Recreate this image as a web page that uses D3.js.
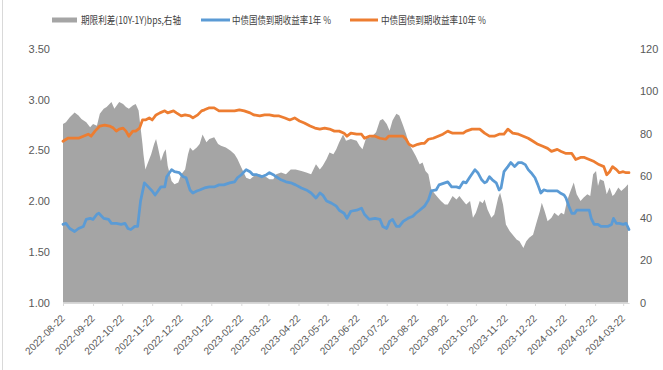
<!DOCTYPE html>
<html>
<head>
<meta charset="utf-8">
<script src="https://cdn.jsdelivr.net/npm/d3@7"></script>
<style>
    body { margin: 0; background: #fff; }
    svg { display: block; font-family: "Noto Sans CJK SC", "Microsoft YaHei", sans-serif; }
</style>
</head>
<body>
<div id="chart"></div>
<script>
const xTickDates = ["2022-08-22", "2022-09-22", "2022-10-22", "2022-11-22", "2022-12-22", "2023-01-22",
    "2023-02-22", "2023-03-22", "2023-04-22", "2023-05-22", "2023-06-22", "2023-07-22", "2023-08-22",
    "2023-09-22", "2023-10-22", "2023-11-22", "2023-12-22", "2024-01-22", "2024-02-22", "2024-03-22"];
const xDomain = ["2022-08-22", "2024-03-28"];
const leftTicks = [1.0, 1.5, 2.0, 2.5, 3.0, 3.5];
const rightTicks = [0, 20, 40, 60, 80, 100, 120];
const legendLabels = ["期限利差(10Y-1Y)bps,右轴", "中债国债到期收益率1年 %", "中债国债到期收益率10年 %"];

// 期限利差 (bps), right axis
const spread = [
    ["2022-08-22", 84.5], ["2022-08-25", 85.3], ["2022-08-29", 87.7], ["2022-09-03", 90], ["2022-09-07", 88.5],
    ["2022-09-10", 86.9], ["2022-09-15", 85.3], ["2022-09-19", 83], ["2022-09-22", 84.5], ["2022-09-26", 83.7],
    ["2022-09-29", 89.3], ["2022-10-03", 91.7], ["2022-10-06", 92.5], ["2022-10-11", 94.9], ["2022-10-14", 91.7],
    ["2022-10-19", 94.9], ["2022-10-23", 94], ["2022-10-26", 92.5], ["2022-10-29", 91.7], ["2022-11-02", 93.2],
    ["2022-11-05", 94], ["2022-11-08", 90.9], ["2022-11-10", 83], ["2022-11-12", 75], ["2022-11-13", 70.2],
    ["2022-11-15", 63], ["2022-11-17", 65.5], ["2022-11-21", 70.2], ["2022-11-24", 75], ["2022-11-26", 77.4],
    ["2022-11-28", 73.4], ["2022-12-01", 67], ["2022-12-04", 71], ["2022-12-06", 72.6], ["2022-12-08", 64.7],
    ["2022-12-12", 57.5], ["2022-12-15", 56], ["2022-12-19", 56.8], ["2022-12-22", 60.7], ["2022-12-26", 63],
    ["2022-12-29", 70.2], ["2022-12-31", 73.4], ["2023-01-03", 71.8], ["2023-01-07", 73.4], ["2023-01-10", 75],
    ["2023-01-13", 79.5], ["2023-01-17", 75.8], ["2023-01-20", 77.4], ["2023-01-25", 78.2], ["2023-01-29", 75],
    ["2023-02-01", 74.2], ["2023-02-06", 73.4], ["2023-02-11", 71.8], ["2023-02-15", 70.2], ["2023-02-18", 67.9],
    ["2023-02-22", 63.9], ["2023-02-27", 59.1], ["2023-03-03", 58.3], ["2023-03-07", 59.9], ["2023-03-13", 60.7],
    ["2023-03-18", 59.9], ["2023-03-23", 58.3], ["2023-03-27", 58.3], ["2023-03-30", 60.7], ["2023-04-04", 61.5],
    ["2023-04-09", 60.7], ["2023-04-14", 63], ["2023-04-19", 63], ["2023-04-25", 62.3], ["2023-04-30", 61.5],
    ["2023-05-05", 60.7], ["2023-05-10", 65.5], ["2023-05-14", 63], ["2023-05-17", 64.7], ["2023-05-21", 67.9],
    ["2023-05-24", 71], ["2023-05-28", 70.2], ["2023-05-31", 72.6], ["2023-06-03", 75.8], ["2023-06-07", 79.5],
    ["2023-06-10", 76.6], ["2023-06-15", 77.4], ["2023-06-21", 76.6], ["2023-06-24", 74.2], ["2023-06-27", 72.6],
    ["2023-07-01", 78.2], ["2023-07-06", 78.2], ["2023-07-11", 80.6], ["2023-07-15", 86.1], ["2023-07-18", 86.9],
    ["2023-07-22", 84.5], ["2023-07-25", 81.3], ["2023-07-28", 86.1], ["2023-08-01", 89.3], ["2023-08-04", 88.5],
    ["2023-08-08", 83.7], ["2023-08-11", 79.8], ["2023-08-14", 75], ["2023-08-18", 71.8], ["2023-08-21", 69.4],
    ["2023-08-25", 65.5], ["2023-08-28", 66.3], ["2023-08-31", 62.3], ["2023-09-03", 60.7], ["2023-09-06", 53.6],
    ["2023-09-10", 51.2], ["2023-09-13", 49.6], ["2023-09-16", 48], ["2023-09-20", 46.4], ["2023-09-23", 46.4],
    ["2023-09-28", 50.4], ["2023-10-02", 48.8], ["2023-10-05", 50.4], ["2023-10-09", 48], ["2023-10-12", 46.4],
    ["2023-10-16", 48], ["2023-10-19", 40.1], ["2023-10-22", 42.5], ["2023-10-26", 48], ["2023-10-29", 47],
    ["2023-10-31", 48.8], ["2023-11-03", 44], ["2023-11-07", 40.1], ["2023-11-10", 41.7], ["2023-11-14", 49.6],
    ["2023-11-16", 52], ["2023-11-19", 46.4], ["2023-11-22", 36.9], ["2023-11-26", 33.7], ["2023-11-29", 32.1],
    ["2023-12-03", 29.8], ["2023-12-06", 29], ["2023-12-10", 25.8], ["2023-12-13", 29], ["2023-12-16", 30.6],
    ["2023-12-20", 32.1], ["2023-12-23", 36.9], ["2023-12-27", 43.2], ["2023-12-29", 47.2], ["2024-01-01", 43.2],
    ["2024-01-04", 38.5], ["2024-01-08", 40.1], ["2024-01-11", 42.5], ["2024-01-15", 40.9], ["2024-01-18", 42.5],
    ["2024-01-21", 41.7], ["2024-01-24", 48], ["2024-01-27", 52], ["2024-01-31", 56.8], ["2024-02-03", 51.2],
    ["2024-02-07", 48], ["2024-02-10", 49.6], ["2024-02-14", 51.2], ["2024-02-17", 50.4], ["2024-02-20", 60.7],
    ["2024-02-23", 62.3], ["2024-02-25", 55.1], ["2024-02-27", 58.3], ["2024-03-02", 57.5], ["2024-03-05", 51.2],
    ["2024-03-08", 54.4], ["2024-03-11", 50.4], ["2024-03-13", 51.2], ["2024-03-17", 54.4], ["2024-03-20", 52.8],
    ["2024-03-24", 54.4], ["2024-03-27", 56]
];

// 1Y yield (%), left axis
const cgb1y = [
    ["2022-08-22", 1.77], ["2022-08-25", 1.78], ["2022-08-29", 1.73], ["2022-09-03", 1.70], ["2022-09-07", 1.73],
    ["2022-09-12", 1.75], ["2022-09-15", 1.82], ["2022-09-19", 1.83], ["2022-09-22", 1.82], ["2022-09-26", 1.87],
    ["2022-09-28", 1.88], ["2022-10-03", 1.83], ["2022-10-08", 1.82], ["2022-10-11", 1.78], ["2022-10-16", 1.78],
    ["2022-10-21", 1.77], ["2022-10-25", 1.78], ["2022-10-28", 1.73], ["2022-10-31", 1.72], ["2022-11-04", 1.75],
    ["2022-11-07", 1.75], ["2022-11-10", 2.00], ["2022-11-14", 2.18], ["2022-11-18", 2.14], ["2022-11-22", 2.10],
    ["2022-11-25", 2.06], ["2022-11-28", 2.10], ["2022-12-01", 2.14], ["2022-12-05", 2.14], ["2022-12-07", 2.24],
    ["2022-12-12", 2.31], ["2022-12-15", 2.29], ["2022-12-20", 2.28], ["2022-12-24", 2.24], ["2022-12-27", 2.23],
    ["2022-12-31", 2.11], ["2023-01-03", 2.08], ["2023-01-07", 2.10], ["2023-01-10", 2.11], ["2023-01-15", 2.13],
    ["2023-01-20", 2.14], ["2023-01-25", 2.14], ["2023-01-30", 2.16], ["2023-02-04", 2.16], ["2023-02-10", 2.18],
    ["2023-02-15", 2.19], ["2023-02-18", 2.23], ["2023-02-22", 2.26], ["2023-02-27", 2.31], ["2023-03-03", 2.29],
    ["2023-03-06", 2.26], ["2023-03-10", 2.26], ["2023-03-15", 2.24], ["2023-03-20", 2.26], ["2023-03-23", 2.28],
    ["2023-03-27", 2.26], ["2023-03-30", 2.24], ["2023-04-04", 2.21], ["2023-04-09", 2.19], ["2023-04-14", 2.18],
    ["2023-04-19", 2.16], ["2023-04-25", 2.13], ["2023-04-30", 2.11], ["2023-05-05", 2.08], ["2023-05-10", 2.03],
    ["2023-05-14", 2.08], ["2023-05-17", 2.06], ["2023-05-21", 2.00], ["2023-05-26", 1.98], ["2023-05-31", 1.95],
    ["2023-06-03", 1.91], ["2023-06-08", 1.88], ["2023-06-11", 1.83], ["2023-06-15", 1.90], ["2023-06-21", 1.91],
    ["2023-06-26", 1.93], ["2023-06-29", 1.87], ["2023-07-04", 1.82], ["2023-07-10", 1.83], ["2023-07-15", 1.82],
    ["2023-07-18", 1.75], ["2023-07-22", 1.73], ["2023-07-25", 1.80], ["2023-07-28", 1.82], ["2023-08-01", 1.75],
    ["2023-08-04", 1.75], ["2023-08-08", 1.80], ["2023-08-13", 1.83], ["2023-08-18", 1.85], ["2023-08-21", 1.88],
    ["2023-08-25", 1.91], ["2023-08-30", 1.95], ["2023-09-03", 2.01], ["2023-09-06", 2.10], ["2023-09-11", 2.11],
    ["2023-09-14", 2.16], ["2023-09-20", 2.18], ["2023-09-23", 2.19], ["2023-09-27", 2.14], ["2023-10-02", 2.14],
    ["2023-10-05", 2.13], ["2023-10-09", 2.19], ["2023-10-12", 2.18], ["2023-10-16", 2.24], ["2023-10-21", 2.31],
    ["2023-10-24", 2.28], ["2023-10-28", 2.21], ["2023-10-31", 2.18], ["2023-11-02", 2.19], ["2023-11-05", 2.24],
    ["2023-11-08", 2.21], ["2023-11-12", 2.18], ["2023-11-15", 2.11], ["2023-11-17", 2.13], ["2023-11-20", 2.29],
    ["2023-11-24", 2.34], ["2023-11-27", 2.38], ["2023-12-01", 2.34], ["2023-12-05", 2.38], ["2023-12-08", 2.38],
    ["2023-12-12", 2.36], ["2023-12-15", 2.31], ["2023-12-18", 2.28], ["2023-12-22", 2.23], ["2023-12-25", 2.16],
    ["2023-12-28", 2.08], ["2023-12-31", 2.11], ["2024-01-04", 2.10], ["2024-01-07", 2.10], ["2024-01-10", 2.10],
    ["2024-01-14", 2.10], ["2024-01-17", 2.08], ["2024-01-21", 2.06], ["2024-01-23", 2.03], ["2024-01-26", 1.95],
    ["2024-01-29", 1.88], ["2024-02-01", 1.88], ["2024-02-03", 1.91], ["2024-02-08", 1.91], ["2024-02-12", 1.91],
    ["2024-02-16", 1.91], ["2024-02-18", 1.83], ["2024-02-21", 1.77], ["2024-02-25", 1.77], ["2024-02-28", 1.75],
    ["2024-03-03", 1.75], ["2024-03-06", 1.75], ["2024-03-10", 1.77], ["2024-03-12", 1.83], ["2024-03-15", 1.78],
    ["2024-03-18", 1.78], ["2024-03-22", 1.77], ["2024-03-25", 1.78], ["2024-03-28", 1.72]
];

// 10Y yield (%), left axis
const cgb10y = [
    ["2022-08-22", 2.59], ["2022-08-27", 2.62], ["2022-09-01", 2.62], ["2022-09-07", 2.62], ["2022-09-12", 2.64],
    ["2022-09-17", 2.66], ["2022-09-20", 2.64], ["2022-09-24", 2.69], ["2022-09-29", 2.74], ["2022-10-04", 2.75],
    ["2022-10-09", 2.74], ["2022-10-13", 2.72], ["2022-10-16", 2.69], ["2022-10-19", 2.71], ["2022-10-23", 2.72],
    ["2022-10-26", 2.69], ["2022-10-29", 2.64], ["2022-11-02", 2.69], ["2022-11-05", 2.69], ["2022-11-09", 2.72],
    ["2022-11-12", 2.80], ["2022-11-15", 2.80], ["2022-11-19", 2.82], ["2022-11-22", 2.80], ["2022-11-26", 2.85],
    ["2022-11-30", 2.87], ["2022-12-05", 2.89], ["2022-12-08", 2.87], ["2022-12-14", 2.89], ["2022-12-17", 2.87],
    ["2022-12-22", 2.84], ["2022-12-26", 2.85], ["2022-12-31", 2.84], ["2023-01-03", 2.82], ["2023-01-08", 2.85],
    ["2023-01-12", 2.89], ["2023-01-15", 2.90], ["2023-01-20", 2.92], ["2023-01-25", 2.92], ["2023-01-30", 2.89],
    ["2023-02-04", 2.89], ["2023-02-10", 2.89], ["2023-02-15", 2.89], ["2023-02-20", 2.90], ["2023-02-25", 2.89],
    ["2023-03-03", 2.87], ["2023-03-07", 2.85], ["2023-03-13", 2.84], ["2023-03-18", 2.85], ["2023-03-23", 2.85],
    ["2023-03-28", 2.84], ["2023-04-02", 2.84], ["2023-04-08", 2.82], ["2023-04-13", 2.80], ["2023-04-18", 2.82],
    ["2023-04-23", 2.79], ["2023-04-28", 2.77], ["2023-05-04", 2.74], ["2023-05-09", 2.72], ["2023-05-14", 2.71],
    ["2023-05-19", 2.72], ["2023-05-24", 2.71], ["2023-05-29", 2.69], ["2023-06-03", 2.69], ["2023-06-08", 2.67],
    ["2023-06-11", 2.64], ["2023-06-15", 2.67], ["2023-06-21", 2.66], ["2023-06-26", 2.66], ["2023-06-29", 2.62],
    ["2023-07-04", 2.64], ["2023-07-10", 2.64], ["2023-07-15", 2.62], ["2023-07-21", 2.61], ["2023-07-24", 2.64],
    ["2023-07-28", 2.64], ["2023-08-03", 2.64], ["2023-08-08", 2.64], ["2023-08-11", 2.61], ["2023-08-14", 2.56],
    ["2023-08-18", 2.54], ["2023-08-23", 2.56], ["2023-08-27", 2.57], ["2023-08-30", 2.57], ["2023-09-03", 2.61],
    ["2023-09-08", 2.62], ["2023-09-13", 2.64], ["2023-09-18", 2.66], ["2023-09-23", 2.69], ["2023-09-28", 2.67],
    ["2023-10-04", 2.67], ["2023-10-09", 2.67], ["2023-10-12", 2.69], ["2023-10-18", 2.71], ["2023-10-22", 2.71],
    ["2023-10-26", 2.71], ["2023-10-31", 2.67], ["2023-11-05", 2.64], ["2023-11-10", 2.64], ["2023-11-15", 2.66],
    ["2023-11-20", 2.66], ["2023-11-24", 2.71], ["2023-11-29", 2.67], ["2023-12-05", 2.66], ["2023-12-10", 2.64],
    ["2023-12-15", 2.62], ["2023-12-20", 2.59], ["2023-12-25", 2.56], ["2023-12-30", 2.54], ["2024-01-04", 2.52],
    ["2024-01-08", 2.49], ["2024-01-14", 2.51], ["2024-01-18", 2.49], ["2024-01-23", 2.47], ["2024-01-29", 2.47],
    ["2024-02-02", 2.41], ["2024-02-07", 2.43], ["2024-02-11", 2.43], ["2024-02-16", 2.41], ["2024-02-21", 2.39],
    ["2024-02-26", 2.36], ["2024-03-02", 2.34], ["2024-03-05", 2.26], ["2024-03-08", 2.29], ["2024-03-11", 2.34],
    ["2024-03-15", 2.31], ["2024-03-18", 2.28], ["2024-03-22", 2.29], ["2024-03-25", 2.28], ["2024-03-28", 2.28]
];

const colors = { spread: "#a5a5a5", y1: "#5b9bd5", y10: "#ed7d31" };
const fullWidth = 663, fullHeight = 370;
const margin = { top: 49, right: 34, bottom: 67.5, left: 63 };
const width = fullWidth - margin.left - margin.right;
const height = fullHeight - margin.top - margin.bottom;
const parseDate = d3.timeParse("%Y-%m-%d");

function ToPoints(series) {
    return series.map(([d, v]) => ({ date: parseDate(d), value: v }));
};

function DrawLegend(root) {
    const legend = root.append("g").attr("transform", "translate(0, 20)");
    // 色块 + 文本, positions follow the Excel legend row
    legend.append("rect")
        .attr("x", 52).attr("y", -2.5)
        .attr("width", 25).attr("height", 5)
        .attr("fill", colors.spread);
    legend.append("line")
        .attr("x1", 201).attr("x2", 230)
        .attr("stroke", colors.y1).attr("stroke-width", 3);
    legend.append("line")
        .attr("x1", 350).attr("x2", 378)
        .attr("stroke", colors.y10).attr("stroke-width", 3);

    const textX = [81, 232, 381];
    const textW = [100, 99, 105];
    legend.selectAll("text.legend")
        .data(legendLabels)
        .join("text")
        .attr("class", "legend")
        .attr("x", (d, i) => textX[i])
        .attr("dy", "0.35em")
        .attr("textLength", (d, i) => textW[i])
        .attr("lengthAdjust", "spacingAndGlyphs")
        .style("font-size", "10px")
        .attr("fill", "#404040")
        .text(d => d);
};

function DrawGraph(divId) {
    const root = d3.select(`#${divId}`)
        .append("svg")
        .attr("width", fullWidth)
        .attr("height", fullHeight);

    root.append("rect")
        .attr("width", fullWidth).attr("height", fullHeight)
        .attr("fill", "#fff");

    // frame edge on the left
    root.append("line")
        .attr("x1", 2.5).attr("x2", 2.5)
        .attr("y1", 0).attr("y2", fullHeight)
        .attr("stroke", "#d9d9d9");

    DrawLegend(root);

    const svg = root.append("g")
        .attr("transform", `translate(${margin.left}, ${margin.top})`);

    const x = d3.scaleTime()
        .domain(xDomain.map(parseDate))
        .range([0, width]);
    const yLeft = d3.scaleLinear().domain([1, 3.5]).range([height, 0]);
    const yRight = d3.scaleLinear().domain([0, 120]).range([height, 0]);

    svg.append("path")
        .datum(ToPoints(spread))
        .attr("fill", colors.spread)
        .attr("d", d3.area()
            .x(d => x(d.date))
            .y0(height)
            .y1(d => yRight(d.value)));

    [[cgb1y, colors.y1], [cgb10y, colors.y10]].forEach(([series, color]) => {
        svg.append("path")
            .datum(ToPoints(series))
            .attr("fill", "none")
            .attr("stroke", color)
            .attr("stroke-width", 2.75)
            .attr("stroke-linejoin", "round")
            .attr("stroke-linecap", "round")
            .attr("d", d3.line()
                .x(d => x(d.date))
                .y(d => yLeft(d.value)));
    });

    // left axis, labels only
    svg.append("g")
        .call(d3.axisLeft(yLeft).tickValues(leftTicks).tickFormat(d3.format(".2f")).tickSize(0).tickPadding(13))
        .call(g => g.select(".domain").remove())
        .selectAll("text")
        .style("font-size", "11px")
        .style("font-family", "inherit")
        .attr("fill", "#595959");

    // right axis, labels only
    svg.append("g")
        .attr("transform", `translate(${width}, 0)`)
        .call(d3.axisRight(yRight).tickValues(rightTicks).tickSize(0).tickPadding(11))
        .call(g => g.select(".domain").remove())
        .selectAll("text")
        .style("font-size", "11px")
        .style("font-family", "inherit")
        .attr("fill", "#595959");

    // bottom axis with rotated date labels
    const xAxis = svg.append("g")
        .attr("transform", `translate(0, ${height + 0.5})`)
        .call(d3.axisBottom(x).tickValues(xTickDates.map(parseDate)).tickFormat(d3.timeFormat("%Y-%m-%d")).tickSize(3).tickSizeOuter(0));

    xAxis.select(".domain").attr("stroke", "#d9d9d9");
    xAxis.selectAll(".tick line").attr("stroke", "#d9d9d9");
    xAxis.selectAll(".tick text")
        .style("font-size", "10px")
        .style("font-family", "inherit")
        .attr("fill", "#595959")
        .attr("text-anchor", "end")
        .attr("y", 0)
        .attr("dy", 0)
        .attr("transform", "translate(2, 16) rotate(-45)");
};

DrawGraph("chart");
</script>
</body>
</html>
